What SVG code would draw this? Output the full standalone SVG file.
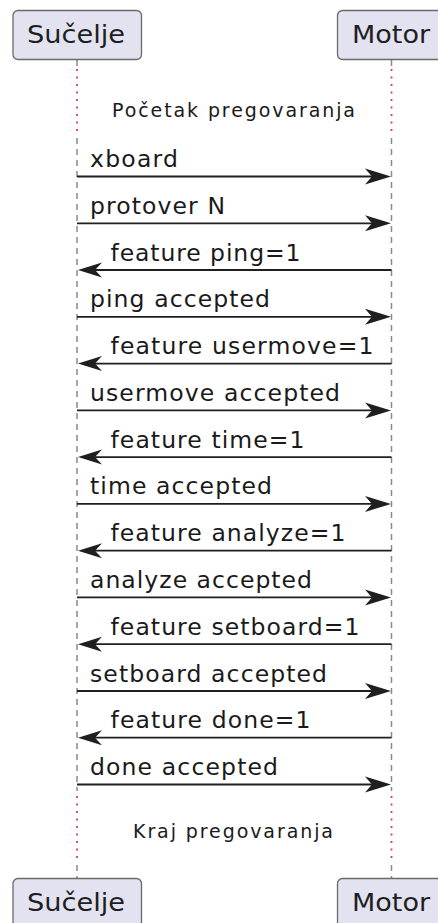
<svg xmlns="http://www.w3.org/2000/svg" width="438" height="923" viewBox="0 0 438 923">
<defs>
<style>
.box{fill:#E2E2F0;stroke:#6a6a6a;stroke-width:1.3}
.pt{font-family:"DejaVu Sans",sans-serif;font-size:24px;fill:#1f1f1f}
.lbl{font-family:"DejaVu Sans",sans-serif;font-size:23.5px;fill:#1a1a1a}
.dl{font-family:"DejaVu Sans",sans-serif;font-size:19px;fill:#1a1a1a}
.life{stroke:#8a8a8a;stroke-width:1.5;stroke-dasharray:6,5;fill:none}
.dot{stroke:#D23A6E;stroke-width:1.8;stroke-dasharray:2,5.5;fill:none}
.msg{stroke:#1f1f1f;stroke-width:1.8;fill:none}
.ah{fill:#1f1f1f;stroke:none}
</style>
</defs>
<rect width="438" height="923" fill="#FFFFFF"/>
<g id="lifelines">
<line class="life" x1="77" y1="60" x2="77" y2="67"/>
<line class="dot" x1="77" y1="69" x2="77" y2="135"/>
<line class="life" x1="77" y1="138" x2="77" y2="791"/>
<line class="dot" x1="77" y1="796" x2="77" y2="862"/>
<line class="life" x1="77" y1="865" x2="77" y2="878"/>
<line class="life" x1="391.5" y1="60" x2="391.5" y2="67"/>
<line class="dot" x1="391.5" y1="69" x2="391.5" y2="135"/>
<line class="life" x1="391.5" y1="138" x2="391.5" y2="791"/>
<line class="dot" x1="391.5" y1="796" x2="391.5" y2="862"/>
<line class="life" x1="391.5" y1="865" x2="391.5" y2="878"/>
</g>
<g id="participant-sucelje-top">
<rect class="box" x="13" y="10.5" width="128.5" height="49" rx="5"/>
<text class="pt" x="27" y="43" textLength="98" lengthAdjust="spacingAndGlyphs">Sučelje</text>
</g>
<g id="participant-motor-top">
<rect class="box" x="337.5" y="10.5" width="110" height="49" rx="5"/>
<text class="pt" x="352" y="43" textLength="78" lengthAdjust="spacingAndGlyphs">Motor</text>
</g>
<g id="participant-sucelje-bottom">
<rect class="box" x="13" y="878.5" width="128.5" height="49" rx="5"/>
<text class="pt" x="27" y="911" textLength="98" lengthAdjust="spacingAndGlyphs">Sučelje</text>
</g>
<g id="participant-motor-bottom">
<rect class="box" x="337.5" y="878.5" width="110" height="49" rx="5"/>
<text class="pt" x="352" y="911" textLength="78" lengthAdjust="spacingAndGlyphs">Motor</text>
</g>
<g id="delays">
<text class="dl" x="112" y="116.5" textLength="243" lengthAdjust="spacing">Početak pregovaranja</text>
<text class="dl" x="133" y="838" textLength="200" lengthAdjust="spacing">Kraj pregovaranja</text>
</g>
<g id="connectors">
<line class="msg" x1="77" y1="176.5" x2="385" y2="176.5"/><polygon class="ah" points="391,176.5 365,168.5 372,176.5 365,184.5"/>
<line class="msg" x1="77" y1="223.3" x2="385" y2="223.3"/><polygon class="ah" points="391,223.3 365,215.3 372,223.3 365,231.3"/>
<line class="msg" x1="84" y1="270" x2="391.5" y2="270"/><polygon class="ah" points="78,270 102,262.5 95,270 102,277.5"/>
<line class="msg" x1="77" y1="316.8" x2="385" y2="316.8"/><polygon class="ah" points="391,316.8 365,308.8 372,316.8 365,324.8"/>
<line class="msg" x1="84" y1="363.6" x2="391.5" y2="363.6"/><polygon class="ah" points="78,363.6 102,356.1 95,363.6 102,371.1"/>
<line class="msg" x1="77" y1="410.4" x2="385" y2="410.4"/><polygon class="ah" points="391,410.4 365,402.4 372,410.4 365,418.4"/>
<line class="msg" x1="84" y1="457.1" x2="391.5" y2="457.1"/><polygon class="ah" points="78,457.1 102,449.6 95,457.1 102,464.6"/>
<line class="msg" x1="77" y1="503.9" x2="385" y2="503.9"/><polygon class="ah" points="391,503.9 365,495.9 372,503.9 365,511.9"/>
<line class="msg" x1="84" y1="550.7" x2="391.5" y2="550.7"/><polygon class="ah" points="78,550.7 102,543.2 95,550.7 102,558.2"/>
<line class="msg" x1="77" y1="597.4" x2="385" y2="597.4"/><polygon class="ah" points="391,597.4 365,589.4 372,597.4 365,605.4"/>
<line class="msg" x1="84" y1="644.2" x2="391.5" y2="644.2"/><polygon class="ah" points="78,644.2 102,636.7 95,644.2 102,651.7"/>
<line class="msg" x1="77" y1="691" x2="385" y2="691"/><polygon class="ah" points="391,691 365,683 372,691 365,699"/>
<line class="msg" x1="84" y1="737.7" x2="391.5" y2="737.7"/><polygon class="ah" points="78,737.7 102,730.2 95,737.7 102,745.2"/>
<line class="msg" x1="77" y1="784.5" x2="385" y2="784.5"/><polygon class="ah" points="391,784.5 365,776.5 372,784.5 365,792.5"/>
</g>
<g id="labels">
<text class="lbl" x="90" y="167" textLength="88" lengthAdjust="spacing">xboard</text>
<text class="lbl" x="90" y="213.8" textLength="135" lengthAdjust="spacing">protover N</text>
<text class="lbl" x="110.5" y="260.5" textLength="190" lengthAdjust="spacing">feature ping=1</text>
<text class="lbl" x="90" y="307.3" textLength="180" lengthAdjust="spacing">ping accepted</text>
<text class="lbl" x="110.5" y="354.1" textLength="263" lengthAdjust="spacing">feature usermove=1</text>
<text class="lbl" x="90" y="400.9" textLength="250" lengthAdjust="spacing">usermove accepted</text>
<text class="lbl" x="110.5" y="447.6" textLength="194" lengthAdjust="spacing">feature time=1</text>
<text class="lbl" x="90" y="494.4" textLength="182" lengthAdjust="spacing">time accepted</text>
<text class="lbl" x="110.5" y="541.2" textLength="235" lengthAdjust="spacing">feature analyze=1</text>
<text class="lbl" x="90" y="587.9" textLength="222" lengthAdjust="spacing">analyze accepted</text>
<text class="lbl" x="110.5" y="634.7" textLength="249" lengthAdjust="spacing">feature setboard=1</text>
<text class="lbl" x="90" y="681.5" textLength="237" lengthAdjust="spacing">setboard accepted</text>
<text class="lbl" x="110.5" y="728.2" textLength="200" lengthAdjust="spacing">feature done=1</text>
<text class="lbl" x="90" y="775" textLength="188" lengthAdjust="spacing">done accepted</text>
</g>
</svg>
